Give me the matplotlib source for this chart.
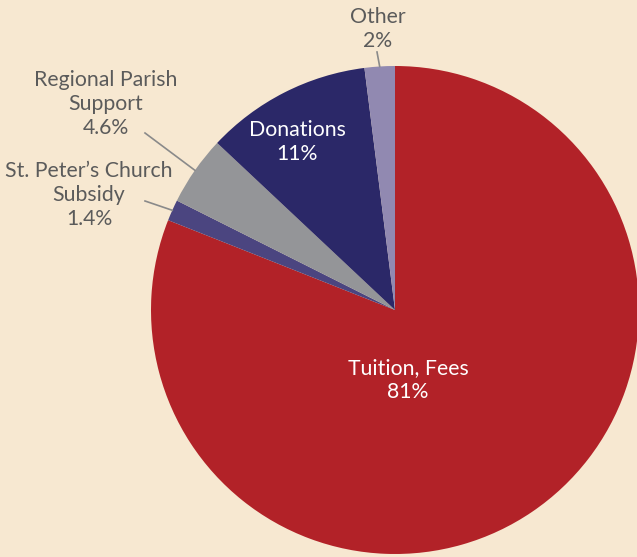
import numpy as np
import matplotlib
matplotlib.use('Agg')
import matplotlib.pyplot as plt

labels = ['Tuition, Fees', "St. Peter\u2019s Church\nSubsidy", 'Regional Parish\nSupport', 'Donations', 'Other']
values = [81, 1.4, 4.6, 11, 2]
pct_text = ['81%', '1.4%', '4.6%', '11%', '2%']
colors = ['#B22228', '#4B4580', '#949598', '#2B2868', '#9189B1']

bg = '#F7E8D1'
grey_txt = '#5B5B5B'
plt.rcParams['font.family'] = ['Lato', 'DejaVu Sans']

fig = plt.figure(figsize=(6.37, 5.57), dpi=100, facecolor=bg)
ax = fig.add_axes([0, 0, 1, 1])
ax.set_facecolor(bg)

cx, cy, r = 395, 247, 244
wedges, _ = ax.pie(values, colors=colors, startangle=90, counterclock=False,
                   center=(cx, cy), radius=r, frame=True,
                   wedgeprops=dict(linewidth=0))
ax.set_xlim(0, 637)
ax.set_ylim(0, 557)
ax.set_aspect('equal')
ax.axis('off')

fs = 15.3
ls = 1.22
# labels inside
ax.text(408, 557 - 380, labels[0] + '\n' + pct_text[0], ha='center', va='center',
        color='white', fontsize=fs, linespacing=ls)
ax.text(297, 557 - 142, labels[3] + '\n' + pct_text[3], ha='center', va='center',
        color='white', fontsize=fs, linespacing=ls)

# outside labels
outside = {1: (89, 195, (145, 201)), 2: (106, 104, (145, 133)), 4: (378, 29, (377, 52))}
for i, (tx, ty, (lx, ly)) in outside.items():
    ax.text(tx, 557 - ty, labels[i] + '\n' + pct_text[i], ha='center', va='center',
            color=grey_txt, fontsize=fs, linespacing=ls)
    w = wedges[i]
    mid = np.deg2rad((w.theta1 + w.theta2) / 2)
    ex, ey = cx + r * np.cos(mid), cy + r * np.sin(mid)
    ax.plot([lx, ex], [557 - ly, ey], color='#8A8A8A', lw=1.2)

fig.savefig('out.png', dpi=100, facecolor=bg)
